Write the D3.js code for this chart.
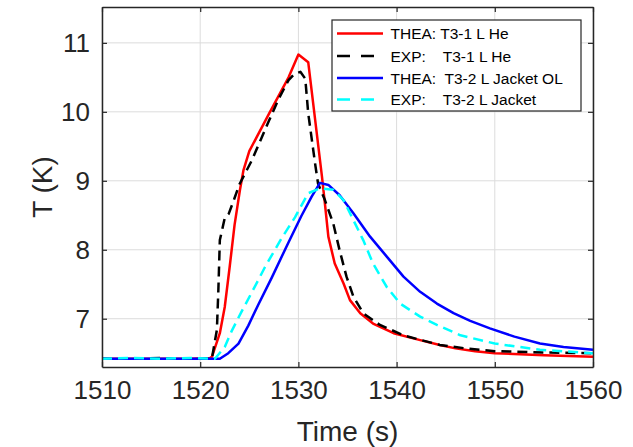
<!DOCTYPE html>
<html><head><meta charset="utf-8">
<script src="https://cdn.jsdelivr.net/npm/d3@7"></script>
<style>
body{margin:0;background:#fff;}
text{font-family:"Liberation Sans",Arial,Helvetica,sans-serif;fill:#262626;}
</style></head>
<body>
<svg id="chart" width="633" height="447"></svg>
<script>
// ---- data ----
const xTicks = [1510, 1520, 1530, 1540, 1550, 1560];
const yTicks = [7, 8, 9, 10, 11];
const seriesNames = ["THEA: T3-1 L He", "EXP:    T3-1 L He", "THEA:  T3-2 L Jacket OL", "EXP:    T3-2 L Jacket"];

const theaHeT = [1510,1513,1516,1519,1521.0,1521.2,1522.0,1522.5,1523.0,1523.5,1524.05,1524.4,1525.0,1527.0,1529.0,1530.0,1531.0,1532.4,1532.7,1533.05,1533.7,1534.6,1535.25,1536.3,1537.6,1539.7,1542.4,1544.4,1546.0,1548.0,1550.0,1555.0,1560.0];
const theaHeV = [6.42,6.42,6.42,6.42,6.43,6.45,6.79,7.17,7.75,8.36,8.87,9.15,9.43,9.97,10.50,10.83,10.72,9.06,8.67,8.19,7.80,7.51,7.27,7.08,6.93,6.79,6.69,6.62,6.57,6.53,6.50,6.47,6.45];

const expHeT = [1510,1513,1516,1519,1521.2,1521.7,1521.85,1522.0,1522.5,1522.9,1523.5,1524.0,1525.2,1526.0,1527.0,1528.0,1529.0,1529.6,1530.2,1530.7,1531.0,1531.7,1532.0,1532.7,1533.55,1534.2,1534.9,1535.6,1536.6,1538.3,1540.7,1542.5,1544.4,1547.0,1550.0,1555.0,1560.0];
const expHeV = [6.42,6.42,6.43,6.42,6.43,6.84,7.42,8.14,8.46,8.52,8.75,8.95,9.28,9.54,9.87,10.19,10.46,10.55,10.58,10.48,9.98,9.25,8.96,8.72,8.38,7.99,7.61,7.32,7.08,6.91,6.76,6.69,6.62,6.57,6.53,6.51,6.50];

const theaJkT = [1510,1513,1516,1519,1522.0,1522.86,1523.9,1524.9,1525.9,1527.3,1529.0,1530.3,1531.35,1532.2,1533.05,1534.2,1535.6,1537.3,1539.0,1540.7,1542.4,1544.1,1545.8,1547.5,1549.5,1552.0,1554.6,1557.0,1560.0];
const theaJkV = [6.42,6.42,6.42,6.42,6.42,6.50,6.64,6.90,7.20,7.60,8.11,8.49,8.77,8.97,8.94,8.79,8.53,8.19,7.90,7.61,7.39,7.22,7.08,6.97,6.86,6.74,6.64,6.59,6.55];

const expJkT = [1510,1513,1516,1519,1521.5,1522.5,1523.2,1524.2,1525.25,1526.6,1528.3,1529.65,1531.0,1532.2,1533.55,1534.6,1535.6,1536.6,1537.6,1539.0,1540.35,1542.4,1544.1,1546.5,1550.0,1554.6,1560.0];
const expJkV = [6.42,6.43,6.42,6.43,6.42,6.59,6.82,7.10,7.38,7.75,8.17,8.47,8.82,8.89,8.87,8.72,8.43,8.14,7.80,7.46,7.22,7.03,6.91,6.76,6.64,6.55,6.50];

const colors = ["#ff0000", "#000000", "#0000ff", "#00ffff"];
const dashes = [null, "10,6", null, "10,6"];

// ---- layout ----
const L = 102, R = 593, T = 7, B = 367;
const svg = d3.select("#chart");
const x = d3.scaleLinear().domain([1510, 1560]).range([L, R]);
const y = d3.scaleLinear().domain([6.3, 11.52]).range([B, T]);

// grid
const grid = svg.append("g");
grid.selectAll(".gx").data(xTicks).enter().append("line")
  .attr("x1", d => x(d)).attr("x2", d => x(d)).attr("y1", T).attr("y2", B)
  .attr("stroke", "#dcdcdc").attr("stroke-width", 1);
grid.selectAll(".gy").data(yTicks).enter().append("line")
  .attr("x1", L).attr("x2", R).attr("y1", d => y(d)).attr("y2", d => y(d))
  .attr("stroke", "#dcdcdc").attr("stroke-width", 1);

// series
const series = [
  {t: theaHeT, v: theaHeV},
  {t: expHeT, v: expHeV},
  {t: theaJkT, v: theaJkV},
  {t: expJkT, v: expJkV}
];
const plot = svg.append("g");
const line = d3.line().x(d => x(d[0])).y(d => y(d[1]));
series.forEach((s, i) => {
  const pts = s.t.map((t, k) => [t, s.v[k]]);
  const p = plot.append("path").datum(pts).attr("d", line)
    .attr("fill", "none").attr("stroke", colors[i]).attr("stroke-width", 2.5)
    .attr("stroke-linejoin", "round");
  if (dashes[i]) p.attr("stroke-dasharray", dashes[i]);
});

// axes
const ax = svg.append("g");
const xb = d3.axisBottom(x).tickValues(xTicks).tickSize(-5).tickSizeOuter(0).tickPadding(14).tickFormat(d3.format("d"));
const xt = d3.axisTop(x).tickValues(xTicks).tickSize(-5).tickSizeOuter(0).tickFormat("");
const yl = d3.axisLeft(y).tickValues(yTicks).tickSize(-5).tickSizeOuter(0).tickPadding(12).tickFormat(d3.format("d"));
const yr = d3.axisRight(y).tickValues(yTicks).tickSize(-5).tickSizeOuter(0).tickFormat("");
function styleAxis(g) {
  g.selectAll("path.domain").attr("stroke", "#262626").attr("stroke-width", 1.5);
  g.selectAll(".tick line").attr("stroke", "#262626").attr("stroke-width", 1.2);
  g.selectAll("text").attr("fill", "#262626").style("font-size", "26px")
    .style("font-family", '"Liberation Sans",Arial,sans-serif');
}
ax.append("g").attr("transform", `translate(0,${B})`).call(xb).call(styleAxis);
ax.append("g").attr("transform", `translate(0,${T})`).call(xt).call(styleAxis);
ax.append("g").attr("transform", `translate(${L},0)`).call(yl).call(styleAxis);
ax.append("g").attr("transform", `translate(${R},0)`).call(yr).call(styleAxis);

// axis labels
svg.append("text").attr("x", (L + R) / 2).attr("y", 441).attr("text-anchor", "middle")
  .style("font-size", "28px").text("Time (s)");
svg.append("text").attr("transform", `translate(52,${(T + B) / 2}) rotate(-90)`)
  .attr("text-anchor", "middle").style("font-size", "28px").text("T (K)");

// legend
const lg = svg.append("g");
const lx0 = 332, ly0 = 20, lw = 249, lh = 91;
lg.append("rect").attr("x", lx0).attr("y", ly0).attr("width", lw).attr("height", lh)
  .attr("fill", "#fff").attr("stroke", "#262626").attr("stroke-width", 1.2);
const rowY = [33.5, 56, 78, 99.5];
seriesNames.forEach((n, i) => {
  const l = lg.append("line").attr("x1", 337).attr("x2", 383).attr("y1", rowY[i]).attr("y2", rowY[i])
    .attr("stroke", colors[i]).attr("stroke-width", 2.5);
  if (dashes[i]) l.attr("stroke-dasharray", "13,11");
  lg.append("text").attr("x", 390.5).attr("y", rowY[i] + 5.5)
    .style("font-size", "15.5px").style("white-space", "pre").attr("xml:space", "preserve")
    .attr("fill", "#000").style("fill", "#000").text(n);
});
</script>
</body></html>
